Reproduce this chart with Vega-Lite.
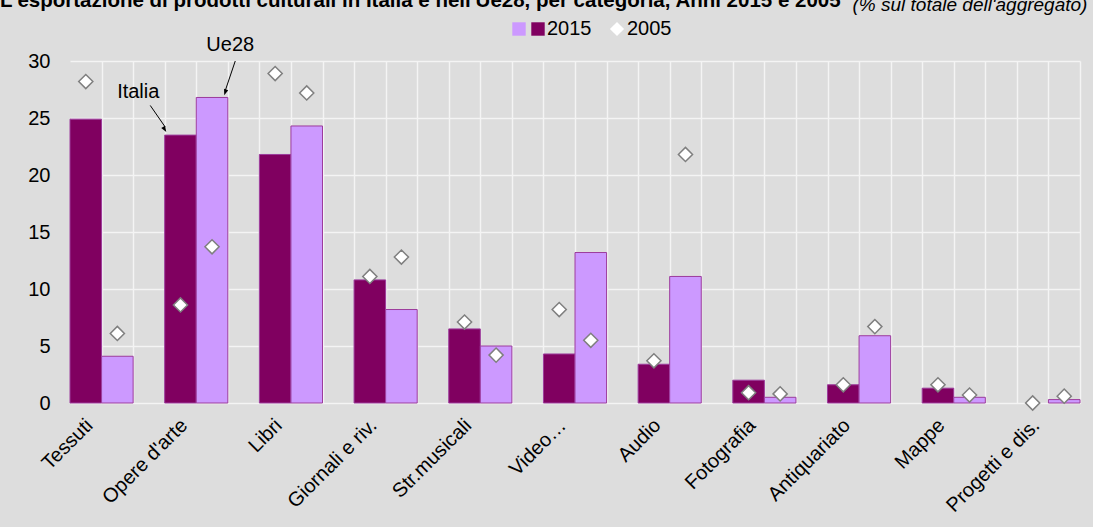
{
  "$schema": "https://vega.github.io/schema/vega-lite/v6.json",
  "width": 1010,
  "height": 342,
  "autosize": {"type": "none"},
  "padding": {"left": 70, "top": 61, "right": 13, "bottom": 124},
  "background": "#dddddd",
  "config": {
    "view": {"stroke": null},
    "font": "Liberation Sans",
    "axis": {"labelFont": "Liberation Sans", "labelColor": "#000000"},
    "legend": {"labelFont": "Liberation Sans", "labelColor": "#000000"}
  },
  "title": {
    "text": "L'esportazione di prodotti culturali in Italia e nell'Ue28, per categoria, Anni 2015 e 2005",
    "anchor": "start",
    "frame": "group",
    "dx": -70,
    "dy": 32,
    "baseline": "alphabetic",
    "offset": 0,
    "font": "Liberation Sans",
    "fontSize": 20.5,
    "fontWeight": "bold",
    "color": "#000000"
  },
  "data": {
    "values": [
      {"categoria": "Tessuti", "area": "Italia", "v2015": 24.9, "v2005": 28.2},
      {"categoria": "Tessuti", "area": "Ue28", "v2015": 4.1, "v2005": 6.1},
      {"categoria": "Opere d'arte", "area": "Italia", "v2015": 23.5, "v2005": 8.6},
      {"categoria": "Opere d'arte", "area": "Ue28", "v2015": 26.8, "v2005": 13.7},
      {"categoria": "Libri", "area": "Italia", "v2015": 21.8, "v2005": 28.9},
      {"categoria": "Libri", "area": "Ue28", "v2015": 24.3, "v2005": 27.2},
      {"categoria": "Giornali e riv.", "area": "Italia", "v2015": 10.8, "v2005": 11.1},
      {"categoria": "Giornali e riv.", "area": "Ue28", "v2015": 8.2, "v2005": 12.8},
      {"categoria": "Str.musicali", "area": "Italia", "v2015": 6.5, "v2005": 7.1},
      {"categoria": "Str.musicali", "area": "Ue28", "v2015": 5.0, "v2005": 4.2},
      {"categoria": "Video…", "area": "Italia", "v2015": 4.3, "v2005": 8.2},
      {"categoria": "Video…", "area": "Ue28", "v2015": 13.2, "v2005": 5.5},
      {"categoria": "Audio", "area": "Italia", "v2015": 3.4, "v2005": 3.7},
      {"categoria": "Audio", "area": "Ue28", "v2015": 11.1, "v2005": 21.8},
      {"categoria": "Fotografia", "area": "Italia", "v2015": 2.0, "v2005": 0.9},
      {"categoria": "Fotografia", "area": "Ue28", "v2015": 0.5, "v2005": 0.8},
      {"categoria": "Antiquariato", "area": "Italia", "v2015": 1.6, "v2005": 1.6},
      {"categoria": "Antiquariato", "area": "Ue28", "v2015": 5.9, "v2005": 6.7},
      {"categoria": "Mappe", "area": "Italia", "v2015": 1.3, "v2005": 1.6},
      {"categoria": "Mappe", "area": "Ue28", "v2015": 0.5, "v2005": 0.7},
      {"categoria": "Progetti e dis.", "area": "Italia", "v2015": null, "v2005": 0.0},
      {"categoria": "Progetti e dis.", "area": "Ue28", "v2015": 0.3, "v2005": 0.6}
    ]
  },
  "layer": [
    {
      "data": {"values": [{}]},
      "mark": {"type": "point", "opacity": 0},
      "encoding": {
        "x": {
          "datum": 0,
          "type": "quantitative",
          "scale": {"domain": [0, 32], "nice": false, "zero": false},
          "axis": {
            "orient": "top",
            "values": [1,2,3,4,5,6,7,8,9,10,11,12,13,14,15,16,17,18,19,20,21,22,23,24,25,26,27,28,29,30,31,32],
            "grid": true,
            "gridColor": "#f4f4f4",
            "gridWidth": 1.5,
            "labels": false,
            "ticks": false,
            "domain": false,
            "title": null
          }
        }
      }
    },
    {
      "layer": [
        {
          "mark": {"type": "bar", "stroke": "#9c3c9c", "strokeWidth": 1},
          "encoding": {
            "x": {
              "field": "categoria",
              "type": "nominal",
              "sort": null,
              "scale": {
                "domain": ["Tessuti", "Opere d'arte", "Libri", "Giornali e riv.", "Str.musicali", "Video…", "Audio", "Fotografia", "Antiquariato", "Mappe", "Progetti e dis."],
                "paddingInner": 0.3333,
                "paddingOuter": 0
              },
              "axis": {
                "title": null,
                "labelAngle": -45,
                "labelAlign": "right",
                "labelBaseline": "middle",
                "labelFontSize": 20,
                "labelPadding": 19,
                "labelOffset": -12,
                "ticks": false,
                "domain": false,
                "grid": false
              }
            },
            "xOffset": {
              "field": "area",
              "type": "nominal",
              "scale": {"domain": ["Italia", "Ue28"], "paddingInner": 0, "paddingOuter": 0}
            },
            "y": {
              "field": "v2015",
              "type": "quantitative",
              "scale": {"domain": [0, 30], "nice": false},
              "axis": {
                "title": null,
                "values": [0, 5, 10, 15, 20, 25, 30],
                "grid": true,
                "gridColor": "#f4f4f4",
                "gridWidth": 1.5,
                "ticks": false,
                "domain": false,
                "labelFontSize": 20,
                "labelPadding": 20
              }
            },
            "color": {
              "field": "area",
              "type": "nominal",
              "scale": {"domain": ["Ue28", "Italia"], "range": ["#cc99ff", "#800060"]},
              "legend": {
                "orient": "none",
                "legendX": 439,
                "legendY": -42,
                "direction": "horizontal",
                "title": null,
                "symbolType": "square",
                "symbolSize": 180,
                "symbolStrokeWidth": 0,
                "symbolOpacity": 1,
                "labelFontSize": 20,
                "labelOffset": -1,
                "columnPadding": -6,
                "padding": 0,
                "labelExpr": "datum.value == 'Italia' ? '2015' : ''"
              }
            }
          }
        },
        {
          "mark": {"type": "point", "filled": true, "fill": "#ffffff", "stroke": "#7f7f7f", "strokeWidth": 1.5, "size": 200, "opacity": 1},
          "encoding": {
            "x": {"field": "categoria", "type": "nominal", "sort": null},
            "xOffset": {"field": "area", "type": "nominal"},
            "y": {"field": "v2005", "type": "quantitative"},
            "shape": {
              "datum": "2005",
              "type": "nominal",
              "scale": {"range": ["diamond"]},
              "legend": {
                "orient": "none",
                "legendX": 537,
                "legendY": -42,
                "title": null,
                "symbolSize": 200,
                "symbolFillColor": "#ffffff",
                "symbolStrokeColor": "#7f7f7f",
                "symbolStrokeWidth": 1.5,
                "labelFontSize": 20,
                "labelOffset": 0,
                "padding": 0
              }
            }
          }
        },
        {
          "data": {"values": [{}]},
          "mark": {"type": "text", "text": "Italia", "fontSize": 20, "dx": -58, "color": "#000000", "baseline": "middle"},
          "encoding": {
            "x": {"datum": "Opere d'arte", "type": "nominal"},
            "y": {"datum": 27.3, "type": "quantitative"}
          }
        },
        {
          "data": {"values": [{}]},
          "mark": {"type": "text", "text": "Ue28", "fontSize": 20, "dx": 34, "color": "#000000", "baseline": "middle"},
          "encoding": {
            "x": {"datum": "Opere d'arte", "type": "nominal"},
            "y": {"datum": 31.4, "type": "quantitative"}
          }
        },
        {
          "data": {"values": [{}]},
          "mark": {"type": "rule", "color": "#000000", "strokeWidth": 1, "xOffset": -46, "x2Offset": -31},
          "encoding": {
            "x": {"datum": "Opere d'arte", "type": "nominal"},
            "x2": {"datum": "Opere d'arte"},
            "y": {"datum": 26.1, "type": "quantitative"},
            "y2": {"datum": 24.2}
          }
        },
        {
          "data": {"values": [{}]},
          "mark": {"type": "rule", "color": "#000000", "strokeWidth": 1, "xOffset": 39, "x2Offset": 29},
          "encoding": {
            "x": {"datum": "Opere d'arte", "type": "nominal"},
            "x2": {"datum": "Opere d'arte"},
            "y": {"datum": 30.0, "type": "quantitative"},
            "y2": {"datum": 27.4}
          }
        },
        {
          "data": {"values": [{}]},
          "mark": {"type": "point", "shape": "M0,0L-0.8,-2.2L0.8,-2.2Z", "filled": true, "color": "#000000", "opacity": 1, "size": 30, "angle": 329, "xOffset": -30},
          "encoding": {
            "x": {"datum": "Opere d'arte", "type": "nominal"},
            "y": {"datum": 23.77, "type": "quantitative"}
          }
        },
        {
          "data": {"values": [{}]},
          "mark": {"type": "point", "shape": "M0,0L-0.8,-2.2L0.8,-2.2Z", "filled": true, "color": "#000000", "opacity": 1, "size": 30, "angle": 18, "xOffset": 28},
          "encoding": {
            "x": {"datum": "Opere d'arte", "type": "nominal"},
            "y": {"datum": 27.0, "type": "quantitative"}
          }
        },
        {
          "data": {"values": [{}]},
          "mark": {"type": "text", "text": "(% sul totale dell'aggregato)", "font": "Liberation Sans", "fontStyle": "italic", "fontSize": 19, "align": "right", "baseline": "alphabetic", "dx": 39, "color": "#000000"},
          "encoding": {
            "x": {"datum": "Progetti e dis.", "type": "nominal"},
            "y": {"datum": 34.4, "type": "quantitative"}
          }
        }
      ]
    }
  ],
  "resolve": {"scale": {"x": "independent"}}
}
